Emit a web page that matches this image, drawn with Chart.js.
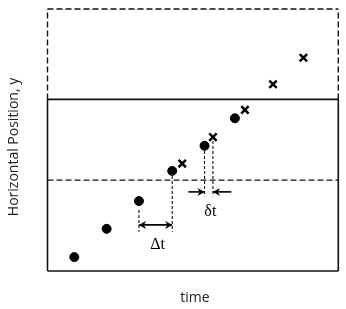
<!DOCTYPE html>
<html>
<head>
<meta charset="utf-8">
<script src="https://cdn.jsdelivr.net/npm/chart.js@4"></script>
<style>
  body { margin: 0; background: #fff; }
</style>
</head>
<body>
<canvas id="myChart" width="346" height="309"></canvas>
<script>
// measured positions (time, y)
var dotTimes = [0.83, 1.83, 2.83, 3.86, 4.86, 5.8];
var dotY = [0.53, 1.61, 2.67, 3.82, 4.78, 5.83];
var crossTimes = [4.17, 5.12, 6.11, 6.98, 7.92];
var crossY = [4.1, 5.11, 6.15, 7.13, 8.14];

var tMax = 9;
var yMax = 10;
var boxTop = 6.55;      // solid frame top
var thresholdY = 3.47;  // dashed horizontal line

// guide lines: [x, yFrom, yTo]
var guides = [
  [2.83, 2.33, 1.5],
  [3.86, 3.63, 1.5],
  [4.86, 4.58, 2.85],
  [5.12, 4.96, 2.85]
];
// arrows: [xFrom, xTo, y, doubleHeaded]
var arrows = [
  [2.83, 3.86, 1.76, true],
  [4.36, 4.86, 3.02, false],
  [5.69, 5.12, 3.02, false]
];
var labels = [["\u0394t", 3.41, 0.99], ["\u03b4t", 5.04, 2.25]];

function pts(xs, ys) {
  return xs.map(function (x, i) { return { x: x, y: ys[i] }; });
}
function seg(x1, y1, x2, y2, dash, w) {
  return {
    type: "line",
    data: [{ x: x1, y: y1 }, { x: x2, y: y2 }],
    borderColor: "#111",
    borderWidth: w,
    borderDash: dash,
    pointRadius: 0,
    clip: false
  };
}

var datasets = [
  {
    label: "measured",
    data: pts(dotTimes, dotY),
    pointStyle: "circle",
    pointRadius: 4.5,
    backgroundColor: "#000",
    borderColor: "#000"
  },
  {
    label: "predicted",
    data: pts(crossTimes, crossY),
    pointStyle: "crossRot",
    pointRadius: 5.2,
    borderWidth: 2.5,
    borderColor: "#000"
  },
  // solid frame
  seg(0, 0, tMax, 0, [], 1.6),
  seg(0, 0, 0, boxTop, [], 1.6),
  seg(tMax, 0, tMax, boxTop, [], 1.6),
  seg(0, boxTop, tMax, boxTop, [], 1.6),
  // dashed extension
  seg(0, boxTop, 0, yMax, [6, 3], 1.4),
  seg(0, yMax, tMax, yMax, [6, 3], 1.4),
  seg(tMax, boxTop, tMax, yMax, [6, 3], 1.4),
  seg(0, thresholdY, tMax, thresholdY, [6, 3], 1.4)
];
guides.forEach(function (g) {
  datasets.push(seg(g[0], g[1], g[0], g[2], [3, 2], 1.1));
});

var extras = {
  id: "extras",
  afterDatasetsDraw: function (chart) {
    var c = chart.ctx, xs = chart.scales.x, ys = chart.scales.y;
    c.save();
    c.strokeStyle = "#000";
    c.fillStyle = "#000";
    c.lineWidth = 1.6;
    arrows.forEach(function (a) {
      var x1 = xs.getPixelForValue(a[0]), x2 = xs.getPixelForValue(a[1]);
      var y = ys.getPixelForValue(a[2]);
      c.beginPath();
      c.moveTo(x1, y);
      c.lineTo(x2, y);
      c.stroke();
      var heads = a[3] ? [[x2, x1], [x1, x2]] : [[x2, x1]];
      heads.forEach(function (h) {
        var dir = h[0] > h[1] ? 1 : -1;
        c.beginPath();
        c.moveTo(h[0] - dir * 7, y - 4);
        c.lineTo(h[0], y);
        c.lineTo(h[0] - dir * 7, y + 4);
        c.lineTo(h[0] - dir * 5, y);
        c.closePath();
        c.fill();
      });
    });
    c.textAlign = "center";
    c.textBaseline = "middle";
    c.font = "16px 'Liberation Serif'";
    labels.forEach(function (l) {
      c.fillText(l[0], xs.getPixelForValue(l[1]), ys.getPixelForValue(l[2]));
    });
    c.font = "14px 'Open Sans'";
    c.fillStyle = "#222";
    c.fillText("time", 195, 298);
    c.translate(14, 147);
    c.rotate(-Math.PI / 2);
    c.fillText("Horizontal Position, y", 0, 0);
    c.restore();
  }
};

var ctx = document.getElementById("myChart").getContext("2d");
var myChart = new Chart(ctx, {
  type: "scatter",
  data: { datasets: datasets },
  options: {
    responsive: false,
    animation: false,
    layout: { padding: { left: 47.5, right: 6.5, top: 9, bottom: 38 } },
    plugins: { legend: { display: false }, tooltip: { enabled: false } },
    scales: {
      x: { type: "linear", min: 0, max: tMax, display: false },
      y: { type: "linear", min: 0, max: yMax, display: false }
    }
  },
  plugins: [extras]
});
</script>
</body>
</html>
